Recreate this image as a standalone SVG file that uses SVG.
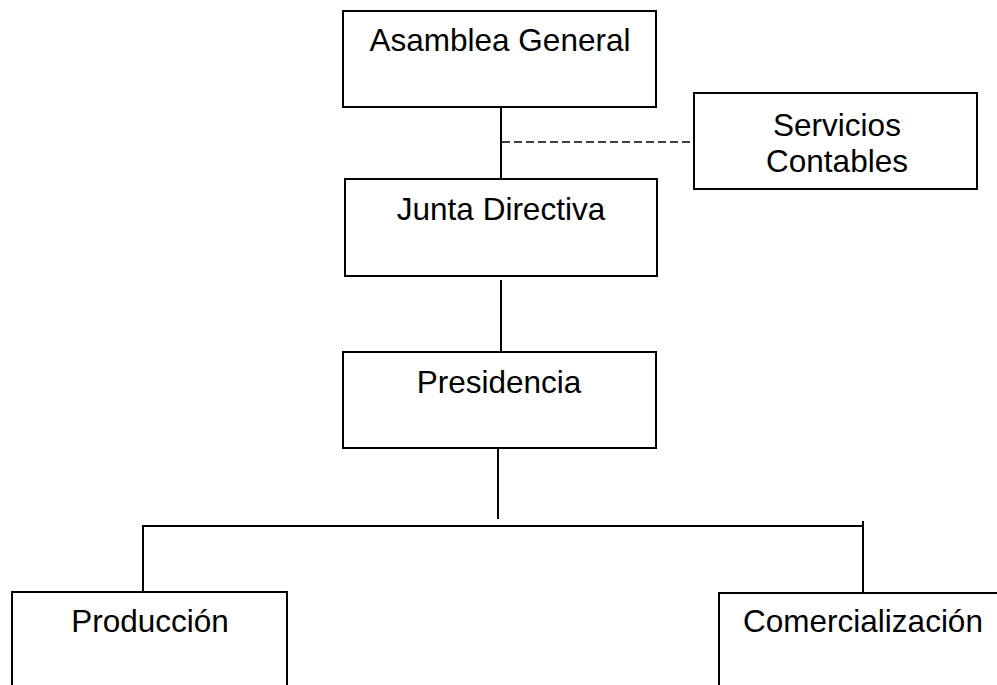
<svg xmlns="http://www.w3.org/2000/svg" width="997" height="685" viewBox="0 0 997 685">
<style>
.box{fill:#fff;stroke:#000;stroke-width:2}
.ln{fill:none;stroke:#000;stroke-width:2}
.dash{fill:none;stroke:#000;stroke-width:1.5;stroke-dasharray:8 4}
text{font-family:"Liberation Sans",Arial,sans-serif;font-size:31.5px;fill:#000;text-anchor:middle}
</style>
<rect width="997" height="685" fill="#fff"/>
<g id="connectors">
<path class="ln" d="M501 107V179"/>
<path class="dash" d="M502 142H694"/>
<path class="ln" d="M501 280V352"/>
<path class="ln" d="M498 448V519"/>
<path class="ln" d="M143 592V526H863"/>
<path class="ln" d="M863 521V593"/>
</g>
<g id="asamblea">
<rect class="box" x="343" y="11" width="313" height="96"/>
<text x="500" y="51">Asamblea General</text>
</g>
<g id="servicios">
<rect class="box" x="694" y="93" width="283" height="96"/>
<text x="837" y="136">Servicios</text>
<text x="837" y="172">Contables</text>
</g>
<g id="junta">
<rect class="box" x="345" y="179" width="312" height="97"/>
<text x="501" y="220">Junta Directiva</text>
</g>
<g id="presidencia">
<rect class="box" x="343" y="352" width="313" height="96"/>
<text x="499" y="393">Presidencia</text>
</g>
<g id="produccion">
<rect class="box" x="12" y="592" width="275" height="120"/>
<text x="150" y="632">Producción</text>
</g>
<g id="comercializacion">
<rect class="box" x="719" y="593" width="300" height="120"/>
<text x="863" y="632">Comercialización</text>
</g>
</svg>
